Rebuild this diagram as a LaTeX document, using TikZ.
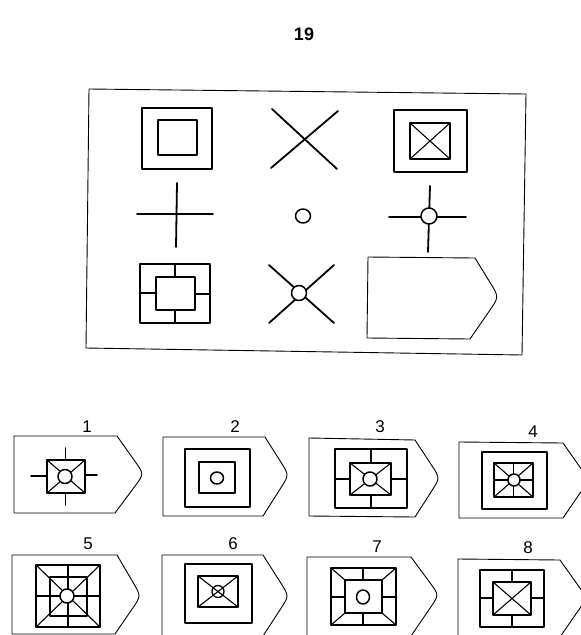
\documentclass[tikz,border=0pt]{standalone}
\usepackage{fontspec}
\setmainfont{Liberation Sans}
\usetikzlibrary{calc}
\begin{document}
\begin{tikzpicture}[x=1pt,y=-1pt,line join=round,line cap=round,
	fig/.style={line width=1.8pt},
	thinfig/.style={line width=1.1pt},
	outline/.style={line width=0.9pt},
	ring/.style={line width=1.5pt,fill=white},
	num/.style={font=\fontsize{17}{20}\selectfont}]
				\useasboundingbox (0,0) rectangle (581,635);
				\node[num,font=\fontsize{18}{20}\selectfont\bfseries] (title) at (304,34) {19};
				% question frame
				\draw[outline] (89,89) -- (526,94) -- (522,355) -- (86,348) -- cycle;
				% row 1
				\draw[fig] (142,108) rectangle (212,169);
				\draw[fig] (158,120) rectangle (197,155);
				\draw[fig] (272,109) -- (337,169);
				\draw[fig] (338,111) -- (271,168);
				\draw[fig] (394,110) rectangle (467,172);
				\draw[fig] (410,123) rectangle (450,159);
				\draw[thinfig] (410,123) -- (450,159) (450,123) -- (410,159);
				% row 2
				\draw[fig] (137,214) -- (213,214);
				\draw[fig] (177,183) -- (176,247);
				\draw[ring] (303,216) ellipse (7.5pt and 7pt);
				\coordinate (Q) at (429,216);
				\draw[fig] (389,217) -- (466,217);
				\draw[fig] (430,186) -- (428,252);
				\draw[ring] (Q) circle (8pt);
				% row 3
				\draw[fig] (140,264) rectangle (210,323);
				\draw[fig] (156,277) rectangle (195,310);
				\draw[fig] (175,264) -- (175,277) (175,310) -- (175,323);
				\draw[fig] (140,293) -- (156,293) (195,294) -- (210,294);
				\coordinate (R) at (299,293);
				\draw[fig] (269,265) -- (334,323);
				\draw[fig] (334,265) -- (269,323);
				\draw[ring] (R) circle (7.5pt);
				\coordinate (T0) at (499,297);
				\draw[outline] (368,257) -- (475,258) -- ($(T0)!17pt!(475,258)$) .. controls (T0) .. ($(T0)!17pt!(470,339)$) -- (470,339) -- (367,338) -- cycle;
				% answer 1
				\node[num] (n1) at (87,427) {1};
				\coordinate (T1) at (144,474);
				\draw[outline] (14,436) -- (117,436) -- ($(T1)!15pt!(117,436)$) .. controls (T1) .. ($(T1)!15pt!(115,513)$) -- (115,513) -- (14,513) -- cycle;
				\draw[fig] (47,460) rectangle (85,493);
				\draw[thinfig] (47,460) -- (85,493) (85,460) -- (47,493);
				\draw[fig] (65.5,448) -- (65.5,460) (65.5,493) -- (65.5,505);
				\draw[fig] (31,476) -- (47,476) (85,475) -- (97,475);
				\draw[ring] (65,476.5) circle (7pt);
				% answer 2
				\node[num] (n2) at (235,427) {2};
				\coordinate (T2) at (289,475);
				\draw[outline] (163,437) -- (265,437) -- ($(T2)!15pt!(265,437)$) .. controls (T2) .. ($(T2)!15pt!(263,516)$) -- (263,516) -- (163,516) -- cycle;
				\draw[fig] (185,449) rectangle (250,507);
				\draw[fig] (199,462) rectangle (235,493);
				\draw[ring] (217,478) ellipse (6.5pt and 6pt);
				% answer 3
				\node[num] (n3) at (380,427) {3};
				\coordinate (T3) at (440,478);
				\draw[outline] (309,438) -- (415,440) -- ($(T3)!15pt!(415,440)$) .. controls (T3) .. ($(T3)!15pt!(415,517)$) -- (415,517) -- (309,516) -- cycle;
				\draw[fig] (335,449) rectangle (407,508);
				\draw[fig] (350,463) rectangle (391,495);
				\draw[fig] (371,449) -- (371,463) (371,495) -- (371,508);
				\draw[fig] (335,479) -- (350,479) (391,479) -- (407,479);
				\draw[thinfig] (350,463) -- (391,495) (391,463) -- (350,495);
				\draw[ring] (370,479) circle (7pt);
				% answer 4
				\node[num] (n4) at (533,432) {4};
				\coordinate (T4) at (589,480);
				\draw[outline] (459,442) -- (563,443) -- ($(T4)!15pt!(563,443)$) .. controls (T4) .. ($(T4)!15pt!(563,518)$) -- (563,518) -- (459,518) -- cycle;
				\draw[fig] (482,452) rectangle (547,509);
				\draw[fig] (494,463) rectangle (533,497);
				\draw[thinfig] (494,463) -- (533,497) (533,463) -- (494,497);
				\draw[thinfig] (513.5,463) -- (513.5,497) (494,480) -- (533,480);
				\draw[ring] (514,480) circle (6pt);
				% answer 5
				\node[num] (n5) at (88,544) {5};
				\coordinate (T5) at (141,596);
				\draw[outline] (12,555) -- (117,555) -- ($(T5)!15pt!(117,555)$) .. controls (T5) .. ($(T5)!15pt!(115,634)$) -- (115,634) -- (12,634) -- cycle;
				\draw[fig] (36,565) rectangle (100,627);
				\draw[thinfig] (50,577) rectangle (87,616);
				\draw[thinfig] (68,565) -- (68,627) (36,596) -- (100,596);
				\draw[thinfig] (36,565) -- (100,627) (100,565) -- (36,627);
				\draw[ring] (67,596) circle (7pt);
				% answer 6
				\node[num] (n6) at (233,544) {6};
				\coordinate (T6) at (289,596);
				\draw[outline] (162,555) -- (263,555) -- ($(T6)!15pt!(263,555)$) .. controls (T6) .. ($(T6)!15pt!(263,636)$) -- (263,636) -- (162,636) -- cycle;
				\draw[fig] (185,564) rectangle (252,623);
				\draw[fig] (198,576) rectangle (238,607);
				\draw[thinfig] (198,576) -- (238,607) (238,576) -- (198,607);
				\draw[line width=1.3pt] (218,591.5) circle (6pt);
				% answer 7
				\node[num] (n7) at (377,547) {7};
				\coordinate (T7) at (439,595);
				\draw[outline] (307,557) -- (411,557) -- ($(T7)!15pt!(411,557)$) .. controls (T7) .. ($(T7)!15pt!(411,636)$) -- (411,636) -- (307,636) -- cycle;
				\draw[fig] (331,568) rectangle (396,625);
				\draw[fig] (345,580) rectangle (382,613);
				\draw[fig] (363,568) -- (363,580) (363,613) -- (363,625);
				\draw[fig] (331,597) -- (345,597) (382,597) -- (396,597);
				\draw[thinfig] (331,568) -- (345,580) (396,568) -- (382,580) (331,625) -- (345,613) (396,625) -- (382,613);
				\draw[ring] (363,597) ellipse (6.5pt and 7pt);
				% answer 8
				\node[num] (n8) at (528,548) {8};
				\coordinate (T8) at (587,598);
				\draw[outline] (458,559) -- (560,560) -- ($(T8)!15pt!(560,560)$) .. controls (T8) .. ($(T8)!15pt!(560,637)$) -- (560,637) -- (458,637) -- cycle;
				\draw[fig] (480,570) rectangle (544,627);
				\draw[fig] (493,582) rectangle (531,615);
				\draw[fig] (512,570) -- (512,582) (512,615) -- (512,627);
				\draw[fig] (480,598) -- (493,598) (531,598) -- (544,598);
				\draw[thinfig] (493,582) -- (531,615) (531,582) -- (493,615);
			\end{tikzpicture}
\end{document}
